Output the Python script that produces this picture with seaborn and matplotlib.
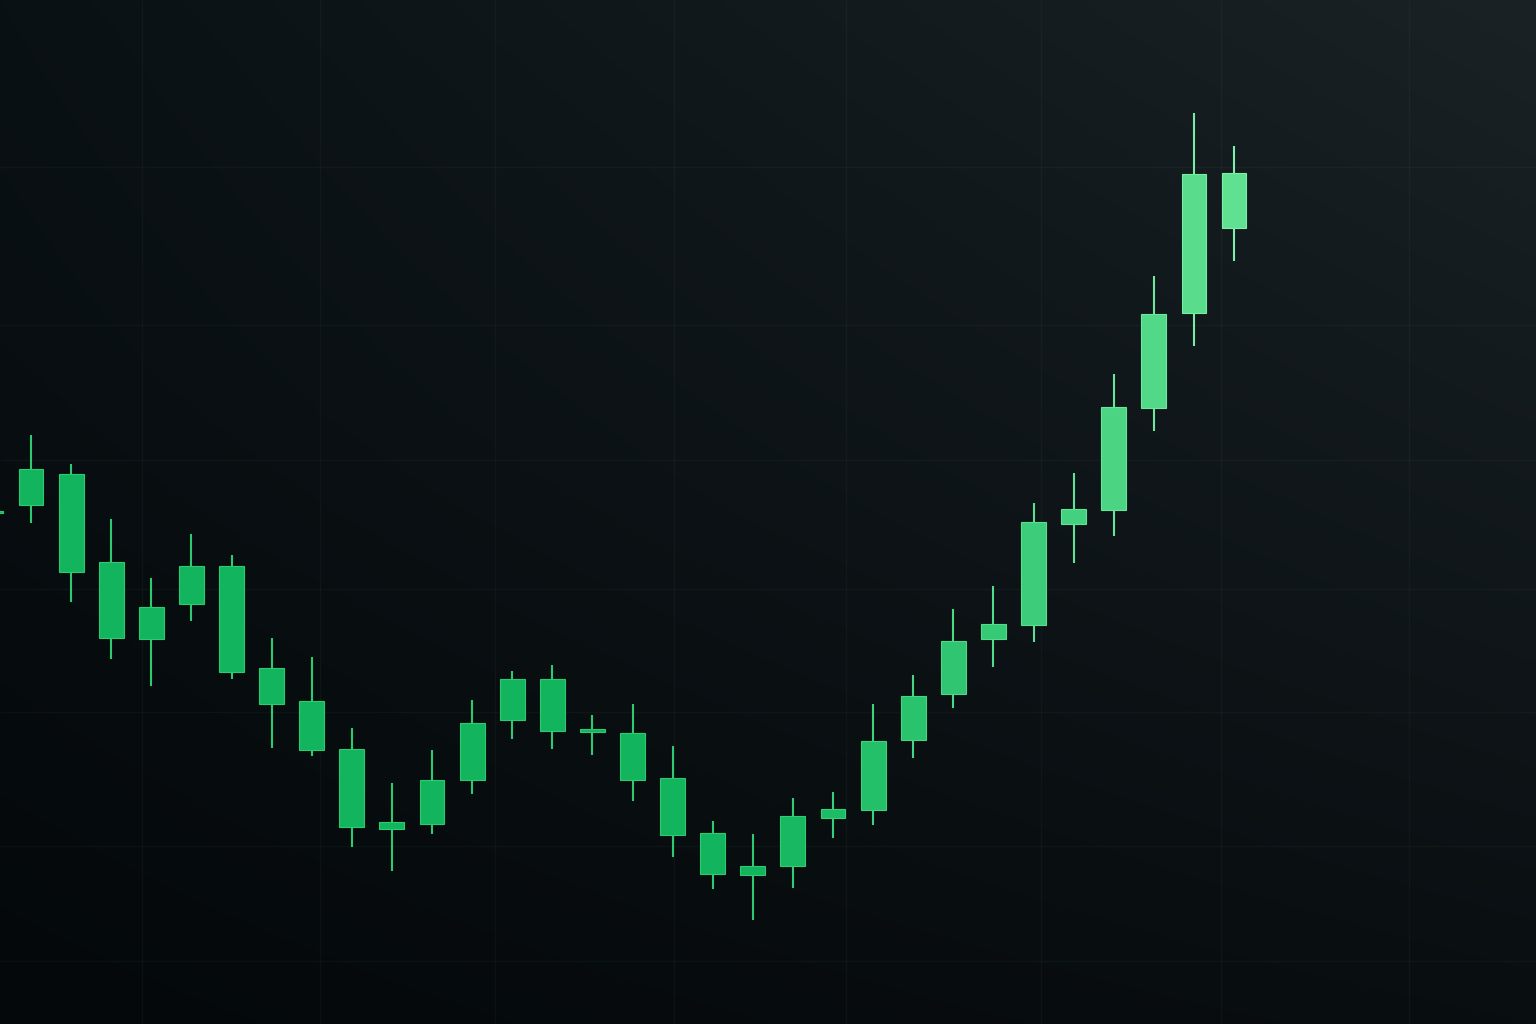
import numpy as np
import matplotlib
matplotlib.use("Agg")
import matplotlib.pyplot as plt
import matplotlib.colors as mcolors
import seaborn as sns

# ---- data (price units) ----
idx = list(range(-1, 31))
highs = [111.4, 118.9, 116.0, 110.5, 104.6, 109.0, 106.9, 98.6, 96.7, 89.6, 84.1,
         87.4, 92.4, 95.3, 95.9, 90.9, 92.0, 87.8, 80.3, 79.0, 82.6, 83.2, 92.0,
         94.9, 101.5, 103.8, 112.1, 115.1, 125.0, 134.8, 151.1, 147.8]
opens = [111.1, 111.9, 105.2, 98.6, 98.5, 102.0, 95.2, 92.0, 87.4, 79.7, 79.5,
         80.0, 84.4, 90.4, 89.3, 89.25, 84.4, 78.9, 75.0, 74.9, 75.8, 80.6, 81.4,
         88.4, 93.0, 98.5, 99.9, 110.0, 111.4, 121.6, 131.1, 139.65]
closes = [111.3, 115.5, 115.0, 106.2, 101.7, 105.8, 105.8, 95.6, 92.3, 87.5, 80.2,
          84.4, 90.1, 94.5, 94.5, 89.5, 89.1, 84.6, 79.1, 75.8, 80.8, 81.5, 88.3,
          92.8, 98.3, 100.0, 110.2, 111.5, 121.7, 131.0, 145.0, 145.1]
lows = [111.0, 110.1, 102.2, 96.5, 93.8, 100.3, 94.5, 87.6, 86.8, 77.7, 75.3,
        79.0, 83.0, 88.5, 87.5, 86.9, 82.3, 76.7, 73.5, 70.4, 73.6, 78.6, 79.9,
        86.6, 91.6, 95.7, 98.2, 106.1, 108.8, 119.3, 127.8, 136.3]

grid_x = [2.77, 7.21, 11.57, 16.03, 20.32, 25.19, 29.68, 34.37]
grid_y = [145.7, 129.9, 116.4, 103.5, 91.2, 77.8, 66.3]

# ---- style ----
sns.set_theme(style="dark")
W, H, DPI = 15.36, 10.24, 100
fig = plt.figure(figsize=(W, H), dpi=DPI)
ax = fig.add_axes([0, 0, 1, 1])

xmin, xmax = -0.773, 37.53
ymin, ymax = 60.0, 162.4
ax.set_xlim(xmin, xmax)
ax.set_ylim(ymin, ymax)

# background gradient
tl = np.array(mcolors.to_rgb("#0a1115"))
tr = np.array(mcolors.to_rgb("#1a2225"))
bl = np.array(mcolors.to_rgb("#04080a"))
br = np.array(mcolors.to_rgb("#090e11"))
ny, nx = 200, 300
u = np.linspace(0, 1, nx)[None, :, None]
v = np.linspace(0, 1, ny)[:, None, None]  # 0 = top
img = (1 - v) * ((1 - u) * tl + u * tr) + v * ((1 - u) * bl + u * br)
ax.imshow(img, extent=(xmin, xmax, ymin, ymax), aspect="auto", zorder=0,
          interpolation="bilinear")

# faint grid
ax.vlines(grid_x, ymin, ymax, colors="#9fc8b4", alpha=0.045, linewidth=1.0, zorder=1)
ax.hlines(grid_y, xmin, xmax, colors="#9fc8b4", alpha=0.045, linewidth=1.0, zorder=1)

# candle colours (darker green on the left, lighter on the right)
c_dark = np.array(mcolors.to_rgb("#12b55e"))
c_light = np.array(mcolors.to_rgb("#60e191"))
e_dark = np.array(mcolors.to_rgb("#2ccb72"))
e_light = np.array(mcolors.to_rgb("#7cf0a8"))

x = np.array(idx, dtype=float)
o = np.array(opens); c = np.array(closes)
h = np.array(highs); l = np.array(lows)
t = np.clip((x - 18) / 12.0, 0, 1) ** 1.1
face = [tuple((1 - ti) * c_dark + ti * c_light) for ti in t]
edge = [tuple((1 - ti) * e_dark + ti * e_light) for ti in t]

body_lo = np.minimum(o, c)
body_hi = np.maximum(o, c)
body_h = np.maximum(body_hi - body_lo, 0.2)

ax.vlines(x, l, h, colors=edge, linewidth=1.5, zorder=2)
ax.bar(x, body_h, bottom=body_lo, width=0.62, color=face, edgecolor=edge,
       linewidth=0.8, zorder=3)

ax.set_axis_off()
fig.savefig("out.png", dpi=DPI)
